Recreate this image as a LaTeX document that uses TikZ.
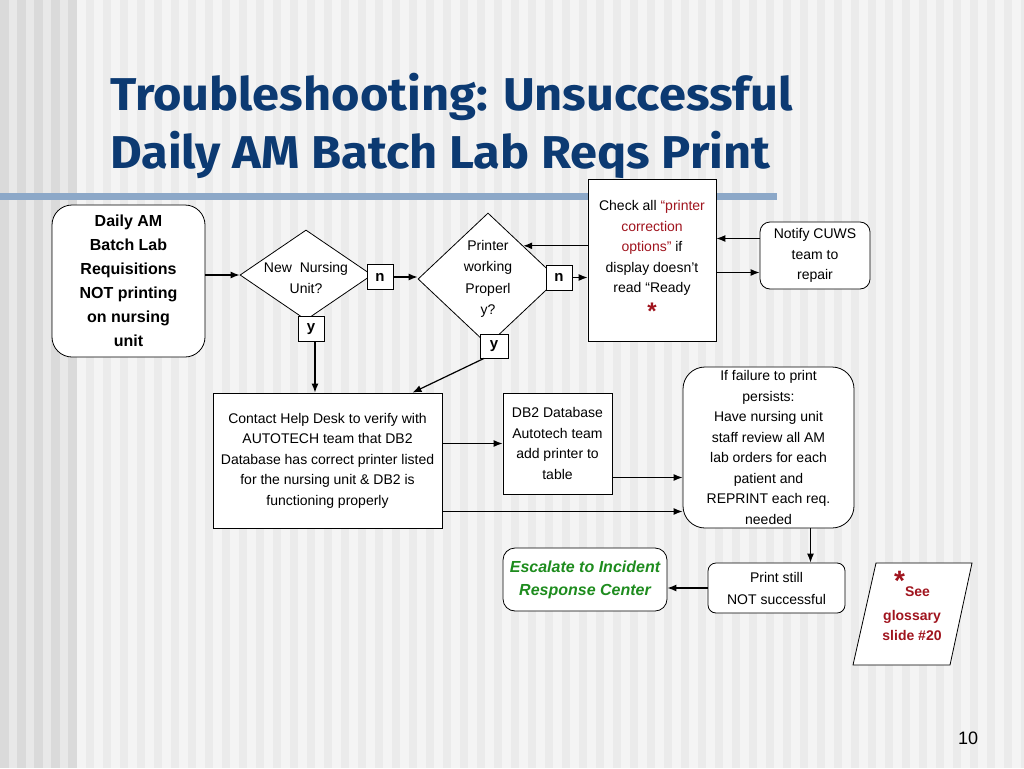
\documentclass[tikz,border=0pt]{standalone}
\usepackage{fontspec}
\setmainfont{Liberation Sans}
\newfontfamily\titlefont[FakeStretch=1.06]{Fira Sans}
\usetikzlibrary{arrows.meta, shapes.geometric, positioning}
\definecolor{titleblue}{RGB}{12,58,114}
\definecolor{rulebar}{RGB}{140,168,200}
\definecolor{darkred}{RGB}{160,20,30}
\definecolor{escgreen}{RGB}{30,140,30}
\definecolor{bgpale}{RGB}{244,244,244}
\definecolor{bgstripe}{RGB}{235,235,235}
\definecolor{bgdark}{RGB}{218,218,218}
\definecolor{bgmid}{RGB}{232,232,232}

\begin{document}
\begin{tikzpicture}[x=1pt, y=-1pt,
  box/.style={draw, fill=white, line width=0.8pt, align=center, inner sep=0pt, font=\fontsize{14}{20.5}\selectfont},
  rbox/.style={box, rounded corners=#1},
  decision/.style={draw, diamond, fill=white, line width=0.8pt, inner sep=0pt},
  tag/.style={draw, fill=white, line width=0.8pt, inner sep=0pt, minimum width=26pt, minimum height=25pt, font=\bfseries\fontsize{15}{15}\selectfont},
  arr/.style={-{Latex[length=9pt,width=7pt]}, line width=1.2pt},
  heading/.style={anchor=base west, inner sep=0pt, text=titleblue, font=\titlefont\bfseries\fontsize{46}{46}\selectfont}
  ]
  \useasboundingbox (0,0) rectangle (1024,768);

  % background stripes
  \fill[bgpale] (0,0) rectangle (1024,768);
  \foreach \i in {0,...,55} \fill[bgstripe] (85.5+\i*17,0) rectangle ++(8.5,768);
  \fill[bgmid] (0,0) rectangle (77,768);
  \foreach \i in {0,...,4} \fill[bgdark] (\i*17,0) rectangle ++(8.5,768);
  \fill[rulebar] (0,193) rectangle (777,200);

  \node[heading] (title1) at (110,110) {Troubleshooting: Unsuccessful};
  \node[heading] (title2) at (110,168) {Daily AM Batch Lab Reqs Print};

  \node[rbox=20pt, minimum width=153pt, minimum height=152pt, font=\bfseries\fontsize{16}{24}\selectfont] (start) at (128.5,281) {Daily AM\\Batch Lab\\Requisitions\\NOT printing\\on nursing\\unit};

  \node[decision, minimum width=132pt, minimum height=90pt, label={[align=center, font=\fontsize{14}{21}\selectfont, yshift=-3pt]center:New\ \ Nursing\\Unit?}] (d1) at (306,275) {};
  \node[tag] (n1) at (380,277) {n};
  \node[tag] (y1) at (311,329) {y};

  \node[decision, minimum width=140pt, minimum height=132pt, label={[align=center, font=\fontsize{14}{21.3}\selectfont]center:Printer\\working\\Properl\\y?}] (d2) at (488,279) {};
  \node[tag] (n2) at (559,277.5) {n};
  \node[tag, minimum width=28pt, minimum height=24pt] (y2) at (494,346) {y};

  \node[box, minimum width=128pt, minimum height=162pt] (check) at (652,260) {Check all {\color{darkred}“printer}\\{\color{darkred}correction}\\{\color{darkred}options”} if\\display doesn’t\\read “Ready\\[6pt]{\color{darkred}\bfseries\fontsize{24}{20}\selectfont *}};
  \node[rbox=10pt, minimum width=110pt, minimum height=67pt] (notify) at (815,255.5) {Notify CUWS\\team to\\repair};

  \node[box, minimum width=229pt, minimum height=135pt] (contact) at (327.5,460.5) {Contact Help Desk to verify with\\AUTOTECH team that DB2\\Database has correct printer listed\\for the nursing unit \& DB2 is\\functioning properly};
  \node[box, minimum width=109pt, minimum height=101pt] (db2) at (557.5,443.5) {DB2 Database\\Autotech team\\add printer to\\table};
  \node[rbox=22pt, minimum width=171pt, minimum height=161pt] (failure) at (768.5,447.5) {If failure to print\\persists:\\Have nursing unit\\staff review all AM\\lab orders for each\\patient and\\REPRINT each req.\\needed};

  \node[rbox=8pt, minimum width=137pt, minimum height=50pt, font=\fontsize{14}{22}\selectfont] (print) at (776.5,588) {Print still\\NOT successful};
  \node[rbox=12pt, minimum width=164pt, minimum height=63pt, text=escgreen, font=\bfseries\itshape\fontsize{16}{23}\selectfont] (escalate) at (585,579.5) {Escalate to Incident\\Response Center};

  % glossary note
  \draw[fill=white, line width=0.8pt] (876,563) -- (972,563) -- (950,665) -- (853,665) -- cycle;
  \node[align=center, text=darkred, font=\bfseries\fontsize{14}{20}\selectfont] (gloss) at (912,606) {\raisebox{6pt}{\fontsize{28}{20}\selectfont *}See\\[4pt]glossary\\slide \#20};

  \node[font=\fontsize{18}{18}\selectfont] (pagenum) at (968,738) {10};

  \draw[arr] (start.east |- d1.west) -- (d1.west);
  \draw[arr] (n1.east) -- (n1.east -| d2.west);
  \draw[arr] (n2.east) -- (n2.east -| check.west);
  \draw[arr] (check.west |- d2.north east) -- (d2.north east);
  \draw[arr] ([yshift=17pt]notify.west) -- ([yshift=17pt]notify.west -| check.east);
  \draw[arr] ([yshift=-17pt]notify.west -| check.east) -- ([yshift=-17pt]notify.west);
  \draw[arr] ([xshift=4pt]y1.south) -- ([xshift=4pt]y1.south |- contact.north);
  \draw[arr] ([xshift=-10pt]y2.south) -- ([xshift=85pt]contact.north);
  \draw[arr] (contact.east |- db2.west) -- (db2.west);
  \draw[arr] ([yshift=-34pt]db2.east) -- ([yshift=-34pt]db2.east -| failure.west);
  \draw[arr] ([yshift=-51pt]contact.east) -- ([yshift=-51pt]contact.east -| failure.west);
  \draw[arr] ([xshift=42pt]failure.south) -- ([xshift=42pt]failure.south |- print.north);
  \draw[arr] (print.west) -- (print.west -| escalate.east);
\end{tikzpicture}
\end{document}
